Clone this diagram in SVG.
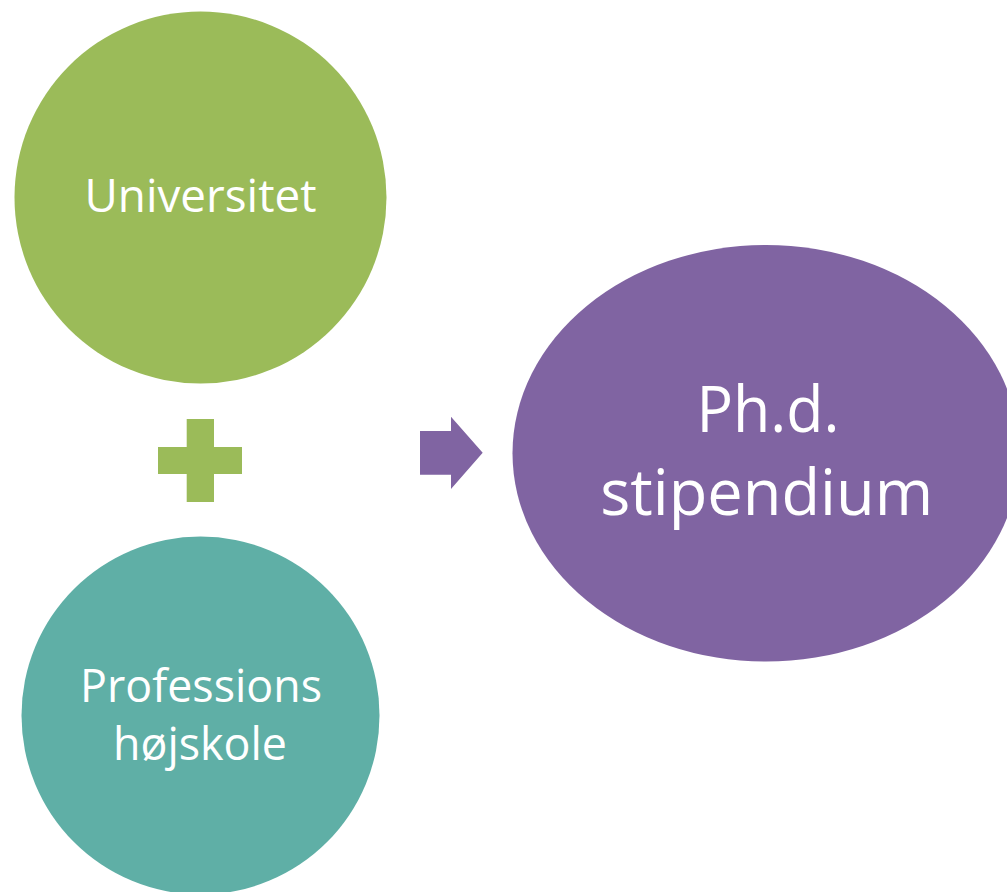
<svg xmlns="http://www.w3.org/2000/svg" width="1007" height="892" viewBox="0 0 1007 892">
<style>
.lbl{font-family:"Open Sans","Liberation Sans",sans-serif;fill:#ffffff;text-anchor:middle}
</style>
<rect width="1007" height="892" fill="#ffffff"/>
<g id="node-universitet">
<circle cx="200.5" cy="197.5" r="186" fill="#9BBB59"/>
<text class="lbl" x="200.5" y="212" font-size="45" textLength="232" lengthAdjust="spacingAndGlyphs">Universitet</text>
</g>
<g id="node-professionshojskole">
<circle cx="200.5" cy="715.5" r="179" fill="#5FAFA6"/>
<text class="lbl" x="201" y="701.7" font-size="46" textLength="242" lengthAdjust="spacingAndGlyphs">Professions</text>
<text class="lbl" x="200" y="760" font-size="46" textLength="174" lengthAdjust="spacingAndGlyphs">højskole</text>
</g>
<g id="node-phd">
<ellipse cx="766" cy="453.3" rx="253.5" ry="208.3" fill="#8064A2"/>
<text class="lbl" x="768" y="432.3" font-size="64" textLength="143" lengthAdjust="spacingAndGlyphs">Ph.d.</text>
<text class="lbl" x="766.7" y="515" font-size="64" textLength="333" lengthAdjust="spacingAndGlyphs">stipendium</text>
</g>
<g id="connectors">
<path id="plus" d="M186.7,419 H214 V447 H242 V474 H214 V502 H186.7 V474 H158 V447 H186.7 Z" fill="#9BBB59"/>
<path id="arrow" d="M420,431 H451 V416.7 L482.7,452.7 L451,489 V474.7 H420 Z" fill="#8064A2"/>
</g>
</svg>
